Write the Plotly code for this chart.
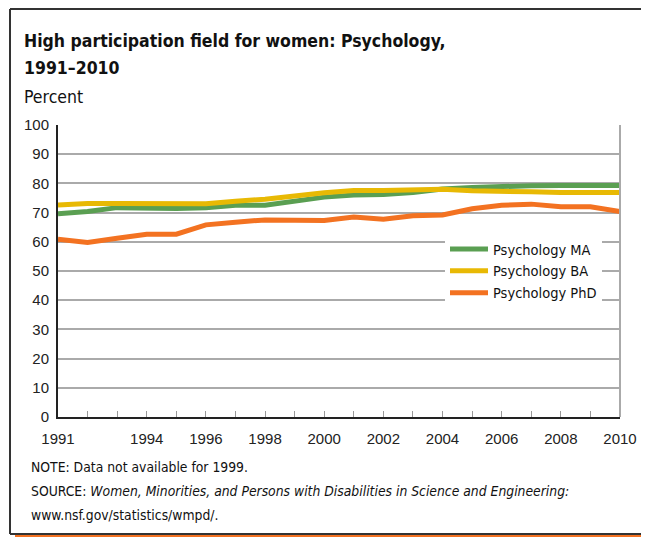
import plotly.graph_objects as go

# values (percent women); no data for 1999
years = [1991, 1992, 1993, 1994, 1995, 1996, 1997, 1998,
         2000, 2001, 2002, 2003, 2004, 2005, 2006, 2007, 2008, 2009, 2010]
psych_ma = [69.6, 70.4, 71.7, 71.4, 71.4, 71.7, 72.5, 72.5,
            75.3, 76.0, 76.2, 76.9, 78.1, 78.6, 79.0, 79.2, 79.3, 79.3, 79.3]
psych_ba = [72.6, 73.1, 73.1, 73.1, 72.9, 73.0, 73.9, 74.6,
            76.8, 77.6, 77.6, 77.8, 78.0, 77.5, 77.1, 77.1, 76.9, 76.9, 76.9]
psych_phd = [60.9, 59.8, 61.2, 62.6, 62.6, 65.8, 66.7, 67.5,
             67.3, 68.5, 67.7, 68.9, 69.2, 71.3, 72.5, 72.9, 72.0, 72.0, 70.4]
x_ticks = [1991, 1994, 1996, 1998, 2000, 2002, 2004, 2006, 2008, 2010]
y_ticks = list(range(0, 101, 10))

GREEN = "#5a9f52"
YELLOW = "#e8b904"
ORANGE = "#f37221"
NARROW = "DejaVu Sans Condensed, sans-serif"
SANS = "Liberation Sans, Arial, sans-serif"

# the page body has an 8px margin, so the figure is a bit smaller than the window
OFF = 8
W, H = 649 - OFF, 537 - OFF
L, R, T, B = 58 - OFF, 620 - OFF, 125 - OFF, 417 - OFF  # plot area, figure pixels


def px(x):
    # screen x -> paper
    return (x - OFF - L) / (R - L)


def py(y):
    # screen y -> paper
    return (B - (y - OFF)) / (B - T)


fig = go.Figure()
fig.add_trace(go.Scatter(x=years, y=psych_ma, mode="lines", name="Psychology MA",
                         line=dict(color=GREEN, width=5), legendrank=1))
fig.add_trace(go.Scatter(x=years, y=psych_ba, mode="lines", name="Psychology BA",
                         line=dict(color=YELLOW, width=5), legendrank=2))
fig.add_trace(go.Scatter(x=years, y=psych_phd, mode="lines", name="Psychology PhD",
                         line=dict(color=ORANGE, width=5), legendrank=3))

fig.update_xaxes(
    range=[1991, 2010], tickvals=x_ticks, showgrid=False, zeroline=False,
    showline=True, linecolor="#222", linewidth=2,
    ticks="inside", ticklen=6, tickcolor="#999", tickwidth=1,
    minor=dict(dtick=1, tick0=1991, ticks="inside", ticklen=6, tickcolor="#999", tickwidth=1),
    tickfont=dict(family=SANS, size=15, color="#222"), ticklabelstandoff=7,
)
fig.update_yaxes(
    range=[0, 100], tickvals=y_ticks, showgrid=True, gridcolor="#aaaaaa", gridwidth=1.5,
    zeroline=False, showline=True, linecolor="#222", linewidth=2,
    tickfont=dict(family=SANS, size=15, color="#222"), ticklabelstandoff=4,
)

shapes = [
    # grey right edge of the plot
    dict(type="line", xref="paper", yref="paper", x0=1, x1=1, y0=0, y1=1,
         line=dict(color="#aaaaaa", width=2)),
    # outer frame, open on the right
    dict(type="line", xref="paper", yref="paper", x0=px(10), x1=px(660), y0=py(9), y1=py(9),
         line=dict(color="#333", width=2)),
    dict(type="line", xref="paper", yref="paper", x0=px(10), x1=px(10), y0=py(9), y1=py(534),
         line=dict(color="#333", width=2)),
    dict(type="line", xref="paper", yref="paper", x0=px(10), x1=px(660), y0=py(534), y1=py(534),
         line=dict(color="#333", width=2)),
    dict(type="line", xref="paper", yref="paper", x0=px(15), x1=px(660), y0=py(536.5), y1=py(536.5),
         line=dict(color=ORANGE, width=3)),
]

annotations = [
    dict(text="<b>High participation field for women: Psychology,</b>", x=px(22), y=py(40.5),
         font=dict(family=NARROW, size=17.5, color="#111")),
    dict(text="<b>1991–2010</b>", x=px(22), y=py(68.5),
         font=dict(family=NARROW, size=17.5, color="#111")),
    dict(text="Percent", x=px(22), y=py(97),
         font=dict(family=NARROW, size=17.5, color="#111")),
]
notes = [
    ("NOTE: Data not available for 1999.", 467),
    ("SOURCE: <i>Women, Minorities, and Persons with Disabilities in Science and Engineering:</i>", 491),
    ("www.nsf.gov/statistics/wmpd/.", 515),
]
for txt, yy in notes:
    annotations.append(dict(text=txt, x=px(29), y=py(yy),
                            font=dict(family=NARROW, size=13.8, color="#111")))
for a in annotations:
    a.update(xref="paper", yref="paper", xanchor="left", yanchor="middle", showarrow=False)

fig.update_layout(
    width=W, height=H,
    margin=dict(l=L, r=W - R, t=T, b=H - B),
    plot_bgcolor="white", paper_bgcolor="white",
    showlegend=True,
    legend=dict(x=px(445), y=py(233), xanchor="left", yanchor="top",
                bgcolor="white", borderwidth=0, itemwidth=38,
                font=dict(family=NARROW, size=14.5, color="#111")),
    shapes=shapes, annotations=annotations,
)

fig.write_html("out.html")
